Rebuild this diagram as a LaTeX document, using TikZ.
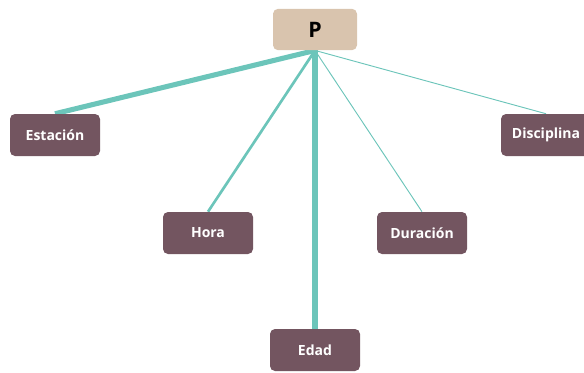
\documentclass[tikz,border=0pt]{standalone}
\usepackage{fontspec}
\setmainfont{Open Sans}
\usetikzlibrary{backgrounds}
\definecolor{boxc}{HTML}{735560}
\definecolor{rootc}{HTML}{D9C4AE}
\definecolor{edgec}{HTML}{6CC5BA}
\tikzset{
  leaf/.style={draw=none, fill=boxc, rounded corners=3.75pt, minimum width=67.5pt, minimum height=31.5pt, text=white, font=\fontsize{10.5}{12}\selectfont\bfseries, inner sep=0pt},
  rootbox/.style={draw=none, fill=rootc, rounded corners=3.75pt, minimum width=63pt, minimum height=31pt, text=black, font=\fontsize{16}{18}\selectfont\bfseries, inner sep=0pt},
  link/.style={draw=edgec}
}
\begin{document}
\begin{tikzpicture}[x=0.75pt,y=-0.75pt]
\useasboundingbox (0,0) rectangle (584,372);
\node[rootbox] (p) at (315,29.5) {P};
\node[leaf] (est) at (55,135) {Estación};
\node[leaf] (dis) at (546,135) {Disciplina};
\node[leaf] (hor) at (208,233) {Hora};
\node[leaf] (dur) at (422,233) {Duración};
\node[leaf] (eda) at (315,350) {Edad};
\begin{scope}[on background layer]
\draw[link, line width=3.8pt] (p.south) -- (est.north);
\draw[link, line width=2pt] (p.south) -- (hor.north);
\draw[link, line width=3.8pt] (p.south) -- (eda.north);
\draw[link, line width=0.7pt] (p.south) -- (dur.north);
\draw[link, line width=0.7pt] (p.south) -- (dis.north);
\end{scope}
\end{tikzpicture}
\end{document}
